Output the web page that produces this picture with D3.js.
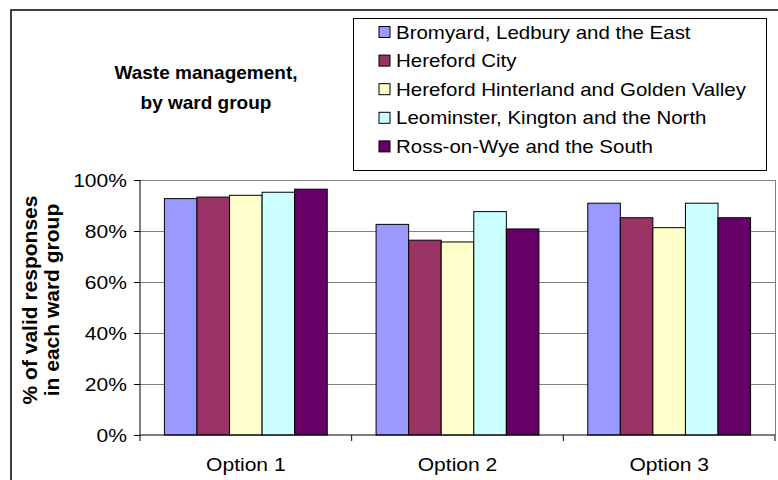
<!DOCTYPE html>
<html><head><meta charset="utf-8">
<script src="https://cdn.jsdelivr.net/npm/d3@7"></script>
<style>body{margin:0;background:#fff}svg{display:block}text{font-family:"Liberation Sans",Arial,sans-serif;fill:#000}</style>
</head><body>
<script>
const categories = ["Option 1", "Option 2", "Option 3"];
const seriesNames = ["Bromyard, Ledbury and the East", "Hereford City", "Hereford Hinterland and Golden Valley", "Leominster, Kington and the North", "Ross-on-Wye and the South"];
const seriesColors = ["#9999FF", "#993366", "#FFFFCC", "#CCFFFF", "#660066"];
const bromyard = [0.927, 0.826, 0.909];
const herefordCity = [0.933, 0.764, 0.852];
const hinterland = [0.940, 0.757, 0.813];
const leominster = [0.952, 0.876, 0.909];
const ross = [0.964, 0.808, 0.852];
const seriesValues = [bromyard, herefordCity, hinterland, leominster, ross];
const yTicks = [0, 0.2, 0.4, 0.6, 0.8, 1.0];
const titleLines = ["Waste management,", "by ward group"];
const yLabelLines = ["% of valid responses", "in each ward group"];

const W = 778, H = 480, SX = 1.17;
const svg = d3.select("body").append("svg").attr("width", W).attr("height", H);

// outer chart border
svg.append("rect").attr("x", 11).attr("y", 10).attr("width", 800).attr("height", 500)
  .attr("fill", "#fff").attr("stroke", "#000").attr("stroke-width", 1.5);

const plot = {l: 140, r: 775, t: 180, b: 435};
const x0 = d3.scaleBand().domain(categories).range([plot.l, plot.r]).paddingInner(0).paddingOuter(0);
const bw = x0.bandwidth() / (seriesNames.length + 1.5);
const x1 = d3.scaleBand().domain(d3.range(seriesNames.length)).range([0.75 * bw, 0.75 * bw + bw * seriesNames.length]);
const y = d3.scaleLinear().domain([0, 1]).range([plot.b, plot.t]);

// gridlines
svg.append("g").selectAll("line").data(yTicks.filter(d => d > 0)).join("line")
  .attr("x1", plot.l).attr("x2", plot.r).attr("y1", d => y(d)).attr("y2", d => y(d))
  .attr("stroke", "#808080").attr("stroke-width", 1).attr("shape-rendering", "crispEdges");
// right border of plot
svg.append("line").attr("x1", plot.r).attr("x2", plot.r).attr("y1", plot.t).attr("y2", plot.b)
  .attr("stroke", "#808080").attr("shape-rendering", "crispEdges");

// bars
const groups = svg.append("g").selectAll("g").data(categories).join("g")
  .attr("transform", d => `translate(${x0(d)},0)`);
groups.selectAll("rect").data((c, ci) => seriesValues.map((s, si) => ({si, v: s[ci]}))).join("rect")
  .attr("x", d => x1(d.si)).attr("width", x1.bandwidth())
  .attr("y", d => y(d.v)).attr("height", d => y(0) - y(d.v))
  .attr("fill", d => seriesColors[d.si]).attr("stroke", "#000").attr("stroke-width", 1);

// y axis
const yAxis = d3.axisLeft(y).tickValues(yTicks).tickSize(6).tickFormat(d3.format(".0%"));
const gy = svg.append("g").attr("transform", `translate(${plot.l},0)`).call(yAxis);
gy.select(".domain").attr("stroke", "#000").attr("d", `M0,${plot.t}V${plot.b}`);
gy.selectAll(".tick line").attr("stroke", "#000");
gy.selectAll(".tick text").attr("x", 0).attr("dy", null).attr("y", 0)
  .attr("font-size", 18).attr("text-anchor", "end").attr("dominant-baseline", "central")
  .attr("transform", `translate(-13,0) scale(${SX},1)`);

// x axis
const gx = svg.append("g").attr("transform", `translate(0,${plot.b})`);
gx.append("line").attr("x1", plot.l).attr("x2", plot.r).attr("y1", 0).attr("y2", 0).attr("stroke", "#000");
const bounds = categories.map(c => x0(c)).concat([plot.r]);
gx.selectAll(".bt").data(bounds).join("line").attr("class", "bt")
  .attr("x1", d => d).attr("x2", d => d).attr("y1", 0).attr("y2", 6).attr("stroke", "#000");
gx.selectAll(".cl").data(categories).join("text").attr("class", "cl")
  .attr("transform", d => `translate(${x0(d) + x0.bandwidth() / 2},36) scale(${SX},1)`)
  .attr("text-anchor", "middle").attr("font-size", 18).text(d => d);

// title
svg.append("g").selectAll("text").data(titleLines).join("text")
  .attr("transform", (d, i) => `translate(206,${79 + i * 30})`)
  .attr("text-anchor", "middle").attr("font-weight", "bold").attr("font-size", 19).text(d => d);

// y label
svg.append("g").selectAll("text").data(yLabelLines).join("text")
  .attr("transform", (d, i) => `translate(${37 + i * 22},300) rotate(-90)`)
  .attr("text-anchor", "middle").attr("font-weight", "bold").attr("font-size", 21).text(d => d);

// legend
const lg = svg.append("g");
lg.append("rect").attr("x", 353).attr("y", 18).attr("width", 413).attr("height", 152)
  .attr("fill", "#fff").attr("stroke", "#000").attr("stroke-width", 1).attr("shape-rendering", "crispEdges");
const items = lg.selectAll(".li").data(seriesNames).join("g").attr("class", "li")
  .attr("transform", (d, i) => `translate(0,${32 + i * 28.6})`);
items.append("rect").attr("x", 379).attr("y", -5.5).attr("width", 11).attr("height", 11)
  .attr("fill", (d, i) => seriesColors[i]).attr("stroke", "#000");
items.append("text").attr("transform", `translate(396,6.5) scale(${SX},1)`)
  .attr("font-size", 17.5).text(d => d);
</script>
</body></html>
